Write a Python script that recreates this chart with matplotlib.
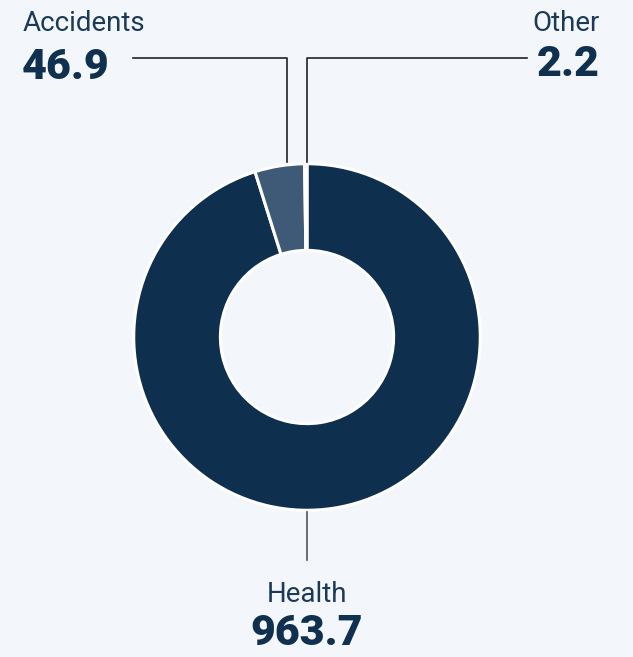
import matplotlib
matplotlib.use("Agg")
import matplotlib.pyplot as plt
from matplotlib.lines import Line2D

categories = ["Health", "Accidents", "Other"]
values = [963.7, 46.9, 2.2]
value_labels = ["963.7", "46.9", "2.2"]
colors = ["#0f2f4f", "#3e5a77", "#c9d4df"]

fam = "Roboto"
BG = "#f3f6fa"
TXT = "#1b3a5a"
NUM = "#10304f"

W, H = 633, 657
fig = plt.figure(figsize=(W / 100, H / 100), dpi=100, facecolor=BG)

cx, cy, R = 307, 337, 175
ax = fig.add_axes([(cx - R) / W, (H - cy - R) / H, 2 * R / W, 2 * R / H])
ax.set_facecolor(BG)
ax.pie(values, colors=colors, startangle=90, counterclock=False, radius=1,
       wedgeprops=dict(width=0.5, edgecolor="white", linewidth=2.2))
ax.set_xlim(-1.01, 1.01)
ax.set_ylim(-1.01, 1.01)
ax.set_aspect("equal")
ax.axis("off")

ov = fig.add_axes([0, 0, 1, 1], facecolor="none")
ov.set_xlim(0, W)
ov.set_ylim(H, 0)
ov.axis("off")

# leader lines
ov.add_line(Line2D([133, 287, 287], [58, 58, 162], color="#222222", lw=1.2))
ov.add_line(Line2D([527, 307, 307], [58, 58, 162], color="#222222", lw=1.2))
ov.add_line(Line2D([307, 307], [512, 560], color="#555555", lw=1.2))

# labels
ov.text(23, 31, categories[1], family=fam, fontsize=20, color=TXT, ha="left", va="baseline")
ov.text(22, 79, value_labels[1], family=fam, fontsize=31, fontweight=900, color=NUM, ha="left", va="baseline")
ov.text(600, 31, categories[2], family=fam, fontsize=20, color=TXT, ha="right", va="baseline")
ov.text(600, 76, value_labels[2], family=fam, fontsize=31, fontweight=900, color=NUM, ha="right", va="baseline")
ov.text(307, 602, categories[0], family=fam, fontsize=20, color=TXT, ha="center", va="baseline")
ov.text(307, 645, value_labels[0], family=fam, fontsize=31, fontweight=900, color=NUM, ha="center", va="baseline")

fig.savefig("out.png", dpi=100, facecolor=BG)
